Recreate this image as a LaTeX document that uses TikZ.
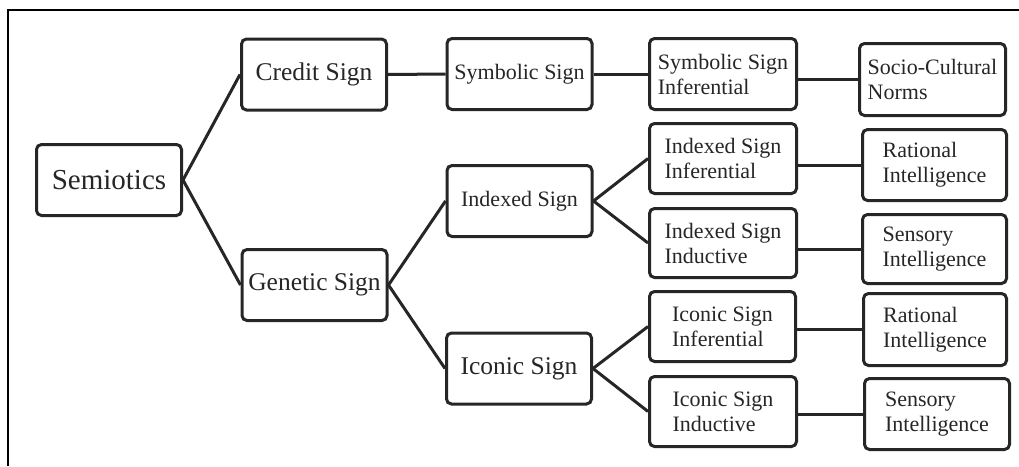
\documentclass[tikz,border=0pt]{standalone}
\usepackage{fontspec}
\setmainfont{Liberation Serif}
\begin{document}
\begin{tikzpicture}[x=1pt,y=-1pt,
  box/.style={draw=black!85, line width=3pt, rounded corners=5pt, rectangle, inner sep=0pt,
    minimum width=145pt, minimum height=71pt, align=left, text=black!85},
  big/.style={font=\fontsize{29}{33}\selectfont},
  mid/.style={font=\fontsize{25.5}{29}\selectfont},
  small/.style={font=\fontsize{22}{25}\selectfont},
  link/.style={draw=black!85, line width=3pt}]
\useasboundingbox (0,0) rectangle (1019,466);
\draw[line width=2.5pt] (8,466) -- (8,10) -- (1019,10);
% level 1
\node[box,big] (sem) at (109,180) {Semiotics};
% level 2
\node[box,mid] (credit) at (314,74.5) {Credit Sign};
\node[box,mid] (genetic) at (314.5,285) {Genetic Sign};
% level 3
\node[box,small] (symbolic) at (519.5,74) {Symbolic Sign};
\node[box,small] (indexed) at (519.5,201) {Indexed Sign};
\node[box,mid] (iconic) at (519,368.5) {Iconic Sign};
% level 4
\node[box,small,minimum width=147pt] (syminf) at (723,74) {Symbolic Sign\\Inferential};
\node[box,small,minimum width=147pt,minimum height=70pt] (idxinf) at (723,158.5) {Indexed Sign\\Inferential};
\node[box,small,minimum width=147pt,minimum height=69pt] (idxind) at (723,243) {Indexed Sign\\Inductive};
\node[box,small,minimum width=146pt,minimum height=70pt] (icoinf) at (722.5,326.5) {Iconic Sign\\Inferential};
\node[box,small,minimum width=147pt,minimum height=70pt] (icoind) at (723,411.5) {Iconic Sign\\Inductive};
% level 5
\node[box,small,minimum width=146pt,minimum height=72pt] (socio) at (932.5,79.5) {Socio-Cultural\\Norms};
\node[box,small,minimum width=144pt] (rat1) at (934.5,165) {Rational\\Intelligence};
\node[box,small,minimum width=144pt,minimum height=69pt] (sens1) at (934.5,249) {Sensory\\Intelligence};
\node[box,small,minimum width=143pt,minimum height=72pt] (rat2) at (935,329.5) {Rational\\Intelligence};
\node[box,small,minimum width=145pt,minimum height=71pt] (sens2) at (937,414) {Sensory\\Intelligence};
% connectors
\draw[link] (sem.east) -- (credit.west);
\draw[link] (sem.east) -- (genetic.west);
\draw[link] (credit.east) -- (symbolic.west);
\draw[link] (genetic.east) -- (indexed.west);
\draw[link] (genetic.east) -- (iconic.west);
\draw[link] (symbolic.east) -- (syminf.west);
\draw[link] (indexed.east) -- (idxinf.west);
\draw[link] (indexed.east) -- (idxind.west);
\draw[link] (iconic.east) -- (icoinf.west);
\draw[link] (iconic.east) -- (icoind.west);
\draw[link] (syminf.east |- socio.west) -- (socio.west);
\draw[link] (idxinf.east |- rat1.west) -- (rat1.west);
\draw[link] (idxind.east |- sens1.west) -- (sens1.west);
\draw[link] (icoinf.east |- rat2.west) -- (rat2.west);
\draw[link] (icoind.east |- sens2.west) -- (sens2.west);
\end{tikzpicture}
\end{document}
